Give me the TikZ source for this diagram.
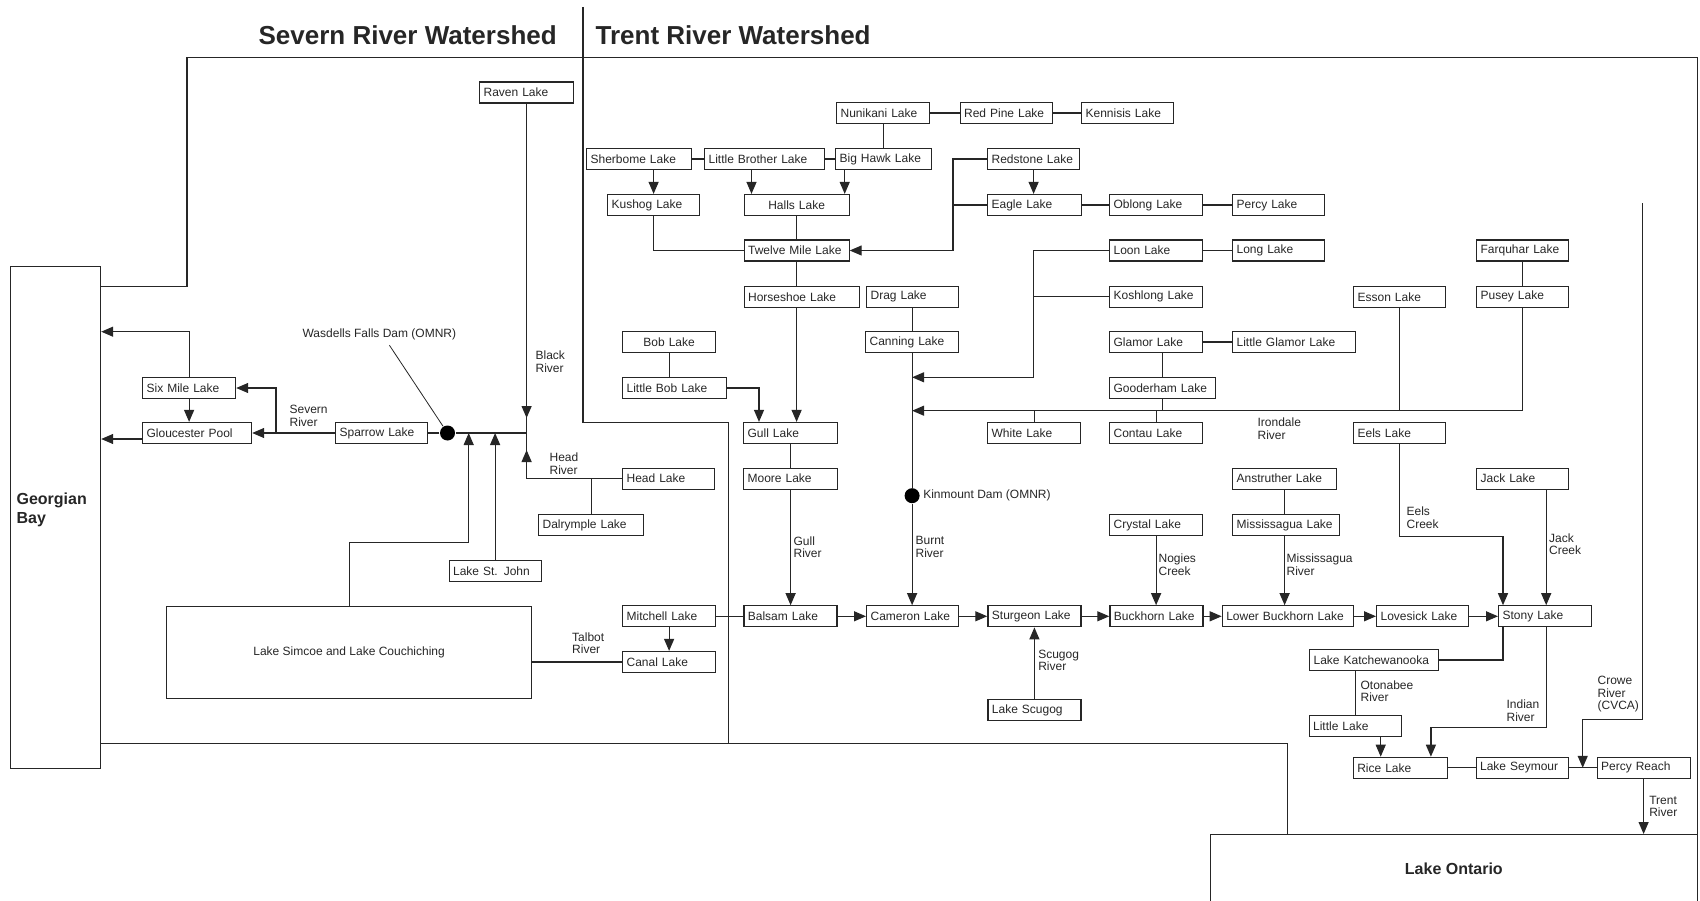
\documentclass[tikz,border=0pt]{standalone}
\usepackage{fontspec}
\setmainfont{Liberation Sans}
\usetikzlibrary{arrows.meta}

\tikzset{
  lake/.style={draw, anchor=west, minimum height=21pt, inner xsep=4pt,
    inner ysep=0pt, text width=#1, align=left,
    font=\fontsize{12}{12.5}\selectfont},
  lake/.default=85pt,
  water/.style={draw, anchor=north west, inner sep=0pt},
  flow/.style={-{Triangle[length=12pt,width=10pt]}},
  river/.style={anchor=west, inner sep=0pt, align=left,
    font=\fontsize{12}{12.5}\selectfont},
  damdot/.style={circle, fill=black, inner sep=0pt, minimum size=15pt},
  heading/.style={anchor=west, inner sep=0pt,
    font=\fontsize{26}{30}\selectfont\bfseries},
}

\begin{document}
\begin{tikzpicture}[x=1pt, y=-1pt, color=black!85, line width=1.2pt]
  \useasboundingbox (0,0) rectangle (1700,901);

  \node[heading] (sevtitle) at (258,35) {Severn River Watershed};
  \node[heading] (trenttitle) at (595,35) {Trent River Watershed};

  %% big waters
  \node[water, minimum width=90.5pt, minimum height=502pt] (georgian) at (9.5,266) {};
  \node[anchor=west, inner sep=0pt, align=left,
    font=\fontsize{16}{19}\selectfont\bfseries] (georgiantxt) at (16,509.5) {Georgian\\Bay};
  \node[water, minimum width=365pt, minimum height=92pt,
    font=\fontsize{12}{12.5}\selectfont] (simcoe) at (166,605.7) {Lake Simcoe and Lake Couchiching};
  \node[water, minimum width=486.5pt, minimum height=68pt,
    font=\fontsize{16}{19}\selectfont\bfseries] (ontario) at (1210,834) {Lake Ontario};

  %% watershed borders
  \draw (georgian.east |- 0,286.5) -| (187,57.7) -- (ontario.north east |- 0,57.7)
    -- (ontario.north east);
  \draw (georgian.east |- 0,743.5) -| (1287.5,834);
  \draw (583,7) -- (583,422.7) -| (728.5,743.5);

  %% Severn lakes
  \node[lake=86pt] (raven) at (479,92.5) {Raven Lake};
  \node[lake] (sixmile) at (142,388) {Six Mile Lake};
  \node[lake=101pt] (gloucester) at (142,433) {Gloucester Pool};
  \node[lake=84pt] (sparrow) at (335,433) {Sparrow Lake};
  \node[lake=84pt] (head) at (622,478.7) {Head Lake};
  \node[lake=97pt] (dalrymple) at (538,525.3) {Dalrymple Lake};
  \node[lake=84pt] (stjohn) at (448.5,571) {Lake St. John};
  \node[lake] (mitchell) at (622,616.3) {Mitchell Lake};
  \node[lake] (canal) at (622,662) {Canal Lake};

  \node[damdot] (wasdells) at (447.5,433) {};
  \node[river] (wasdellstxt) at (302,334) {Wasdells Falls Dam (OMNR)};
  \coordinate (sevj) at (raven.south |- sparrow.east);
  \coordinate (sevbranch) at (276,433);
  \coordinate (simcoej) at (468.7,542.7);

  \draw (raven.south) -- (sevj);
  \draw[flow] (raven.south) -- ([yshift=15pt]sevj); %% Black River
  \draw (head.west) -| (sevj);
  \draw[flow] (head.west -| sevj) -- ([yshift=-17pt]sevj); %% Head River
  \draw (dalrymple.north) -- (dalrymple.north |- head.west);
  \draw (sevj) -- (wasdells) -- (sparrow.east);
  \draw[line width=0.8pt] (wasdells) -- ([xshift=10pt,yshift=-5pt]wasdellstxt.south);
  \draw[flow] (sparrow.west) -- (gloucester.east); %% Severn River
  \draw[flow] (sevbranch) |- (sixmile.east);
  \draw[flow] (sixmile.south) -- (sixmile.south |- gloucester.north);
  \draw[flow] (sixmile.north) |- (georgian.east |- 0,331.7);
  \draw[flow] ([yshift=-6pt]gloucester.west) -- ([yshift=-6pt]gloucester.west -| georgian.east);
  \draw[flow] (stjohn.north) -- (stjohn.north |- sevj);
  \draw[flow] (simcoe.north) |- (simcoej) -- (simcoej |- sevj);
  \draw (simcoe.east |- canal.west) -- (canal.west); %% Talbot River
  \draw[flow] (mitchell.south) -- (mitchell.south |- canal.north);

  %% Trent lakes
  \node[lake] (nunikani) at (836,113) {Nunikani Lake};
  \node[lake=84pt] (redpine) at (959.5,113) {Red Pine Lake};
  \node[lake=84pt] (kennisis) at (1081,113) {Kennisis Lake};
  \node[lake=97pt] (sherborne) at (586,159) {Sherbome Lake};
  \node[lake=112pt] (littlebrother) at (704,159) {Little Brother Lake};
  \node[lake=88pt] (bighawk) at (835,159) {Big Hawk Lake};
  \node[lake=84pt] (redstone) at (987,159) {Redstone Lake};
  \node[lake=84pt] (kushog) at (607,205) {Kushog Lake};
  \node[lake=97pt, align=center] (halls) at (743.5,205) {Halls Lake};
  \node[lake=86pt] (eagle) at (987,205) {Eagle Lake};
  \node[lake] (oblong) at (1109,205) {Oblong Lake};
  \node[lake=84pt] (percy) at (1232,205) {Percy Lake};
  \node[lake=97pt] (twelvemile) at (743.5,250.5) {Twelve Mile Lake};
  \node[lake] (loon) at (1109,250.5) {Loon Lake};
  \node[lake=84pt] (long) at (1232,250.5) {Long Lake};
  \node[lake=84pt] (farquhar) at (1476,250.5) {Farquhar Lake};
  \node[lake=107pt] (horseshoe) at (743.5,296.8) {Horseshoe Lake};
  \node[lake=84pt] (drag) at (866,296.8) {Drag Lake};
  \node[lake] (koshlong) at (1109,296.8) {Koshlong Lake};
  \node[lake=84pt] (esson) at (1353,296.8) {Esson Lake};
  \node[lake=84pt] (pusey) at (1476,296.8) {Pusey Lake};
  \node[lake, align=center] (bob) at (622,342) {Bob Lake};
  \node[lake] (canning) at (865,342) {Canning Lake};
  \node[lake] (glamor) at (1109,342) {Glamor Lake};
  \node[lake=115pt] (littleglamor) at (1232,342) {Little Glamor Lake};
  \node[lake=96pt] (littlebob) at (622,388) {Little Bob Lake};
  \node[lake=98pt] (gooderham) at (1109,388) {Gooderham Lake};
  \node[lake=86pt] (gull) at (743,433) {Gull Lake};
  \node[lake] (white) at (987,433) {White Lake};
  \node[lake] (contau) at (1109,433) {Contau Lake};
  \node[lake=84pt] (eels) at (1353,433) {Eels Lake};
  \node[lake=86pt] (moore) at (743,478.7) {Moore Lake};
  \node[lake=96pt] (anstruther) at (1232,478.7) {Anstruther Lake};
  \node[lake=84pt] (jack) at (1476,478.7) {Jack Lake};
  \node[lake] (crystal) at (1109,525.3) {Crystal Lake};
  \node[lake=99pt] (mississagua) at (1232,525.3) {Mississagua Lake};
  \node[lake] (balsam) at (743.3,616.3) {Balsam Lake};
  \node[lake=84pt] (cameron) at (866,616.3) {Cameron Lake};
  \node[lake] (sturgeon) at (987.3,616.3) {Sturgeon Lake};
  \node[lake] (buckhorn) at (1109.3,616.3) {Buckhorn Lake};
  \node[lake=123pt] (lowerbuckhorn) at (1221.7,616.3) {Lower Buckhorn Lake};
  \node[lake=84pt] (lovesick) at (1376,616.3) {Lovesick Lake};
  \node[lake] (stony) at (1498,616.3) {Stony Lake};
  \node[lake=121pt] (katch) at (1309,660) {Lake Katchewanooka};
  \node[lake] (scugog) at (987.3,710.3) {Lake Scugog};
  \node[lake=84pt] (littlelake) at (1308.5,726.3) {Little Lake};
  \node[lake=86pt] (rice) at (1352.7,767.8) {Rice Lake};
  \node[lake=84pt] (seymour) at (1475.5,767.8) {Lake Seymour};
  \node[lake] (percyreach) at (1596.5,767.8) {Percy Reach};

  \node[damdot] (kinmount) at (canning.south |- 0,495.7) {};
  \coordinate (redjog) at (953,205);
  \coordinate (loonj) at (1033.5,377.3);
  \coordinate (ironj) at (pusey.south |- 0,410.7);
  \coordinate (eelsj) at ([xshift=5pt]stony.north west |- 0,536.7);
  \coordinate (indianj) at ([xshift=-17pt]rice.north east |- 0,727.3);
  \coordinate (crowetop) at (1642.7,203.3);
  \coordinate (crowebend) at (1642.7,719.3);
  \coordinate (crowein) at ([xshift=14pt]seymour.east);

  \draw (mitchell.east) -- (balsam.west);
  \draw (nunikani) -- (redpine) -- (kennisis);
  \draw (nunikani.south) -- (nunikani.south |- bighawk.north);
  \draw (sherborne) -- (littlebrother) -- (bighawk);
  \draw[flow] (kushog.north |- sherborne.south) -- (kushog.north);
  \draw[flow] ([xshift=8pt]halls.north west |- littlebrother.south) -- ([xshift=8pt]halls.north west);
  \draw[flow] ([xshift=-5pt]halls.north east |- bighawk.south) -- ([xshift=-5pt]halls.north east);
  \draw (kushog.south) |- (twelvemile.west);
  \draw (halls.south) -- (twelvemile.north);
  \draw[flow] (redstone.west) -| (redjog) |- (twelvemile.east);
  \draw (eagle.west) -- (redjog);
  \draw[flow] (redstone.south) -- (redstone.south |- eagle.north);
  \draw (eagle) -- (oblong) -- (percy);
  \draw (twelvemile.south) -- (twelvemile.south |- horseshoe.north);
  \draw[flow] (twelvemile.south |- horseshoe.south) -- (twelvemile.south |- gull.north);
  \draw (bob.south) -- (bob.south |- littlebob.north);
  \draw[flow] (littlebob.east) -| ([xshift=16pt]gull.north west);
  \draw (gull.south) -- (gull.south |- moore.north);
  \draw[flow] (moore.south) -- (moore.south |- balsam.north); %% Gull River
  \draw (drag.south) -- (drag.south |- canning.north);
  \draw (canning.south) -- (kinmount);
  \draw[flow] (kinmount) -- (kinmount |- cameron.north); %% Burnt River
  \draw[flow] (loon.west) -| (loonj) -- (loonj -| canning.south);
  \draw (koshlong.west) -- (koshlong.west -| loonj);
  \draw[flow] (pusey.south) -- (ironj) -- (ironj -| canning.south); %% Irondale River
  \draw (esson.south) -- (esson.south |- ironj);
  \draw (gooderham.south) -- (gooderham.south |- ironj);
  \draw (contau.north) -- (contau.north |- ironj);
  \draw (white.north) -- (white.north |- ironj);
  \draw (gooderham.north |- glamor.south) -- (gooderham.north);
  \draw (glamor) -- (littleglamor);
  \draw (loon) -- (long);
  \draw (farquhar) -- (pusey);
  \draw[flow] (balsam) -- (cameron);
  \draw[flow] (cameron) -- (sturgeon);
  \draw[flow] (sturgeon) -- (buckhorn);
  \draw[flow] (buckhorn) -- (lowerbuckhorn);
  \draw[flow] (lowerbuckhorn) -- (lovesick);
  \draw[flow] (lovesick) -- (stony);
  \draw[flow] (scugog.north) -- (scugog.north |- sturgeon.south); %% Scugog River
  \draw[flow] (crystal.south) -- (crystal.south |- buckhorn.north);
  \draw (anstruther.south) -- (anstruther.south |- mississagua.north);
  \draw[flow] (anstruther.south |- mississagua.south) -- (anstruther.south |- lowerbuckhorn.north);
  \draw[flow] (eels.south) |- (eelsj) -- (eelsj |- stony.north); %% Eels Creek
  \draw[flow] ([xshift=-23pt]jack.south east) -- ([xshift=-23pt]jack.south east |- stony.north);
  \draw ([xshift=5pt]stony.south west) |- (katch.east);
  \draw (littlelake.north |- katch.south) -- (littlelake.north); %% Otonabee River
  \draw[flow] ([xshift=-21pt]littlelake.south east) -- ([xshift=-21pt]littlelake.south east |- rice.north);
  \draw[flow] ([xshift=-23pt]jack.south east |- stony.south) |- (indianj) -- (indianj |- rice.north);
  \draw (rice) -- (seymour) -- (percyreach);
  \draw[flow] (crowetop) -- (crowebend) -| (crowein); %% Crowe River
  \draw[flow] (percyreach.south) -- (percyreach.south |- ontario.north); %% Trent River

  %% river labels
  \node[river] (blackr) at (535,361.7) {Black\\River};
  \node[river] (severnr) at (289,416) {Severn\\River};
  \node[river] (headr) at (549,463.5) {Head\\River};
  \node[river] (talbotr) at (571.6,643.3) {Talbot\\River};
  \node[river] (gullr) at (793,547) {Gull\\River};
  \node[river] (burntr) at (915,547) {Burnt\\River};
  \node[river] (kinmounttxt) at (922.7,495.7) {Kinmount Dam (OMNR)};
  \node[river] (irondaler) at (1257,428.8) {Irondale\\River};
  \node[river] (scugogr) at (1037.7,660.5) {Scugog\\River};
  \node[river] (nogiesc) at (1158,564.5) {Nogies\\Creek};
  \node[river] (mississaguar) at (1286,564.5) {Mississagua\\River};
  \node[river] (eelsc) at (1406,517.5) {Eels\\Creek};
  \node[river] (jackc) at (1548.5,544.2) {Jack\\Creek};
  \node[river] (otonabeer) at (1360,691.3) {Otonabee\\River};
  \node[river] (indianr) at (1506,710.8) {Indian\\River};
  \node[river] (crower) at (1597,694.5) {Crowe\\River\\(CVCA)};
  \node[river] (trentr) at (1648.7,806.5) {Trent\\River};

\end{tikzpicture}
\end{document}
